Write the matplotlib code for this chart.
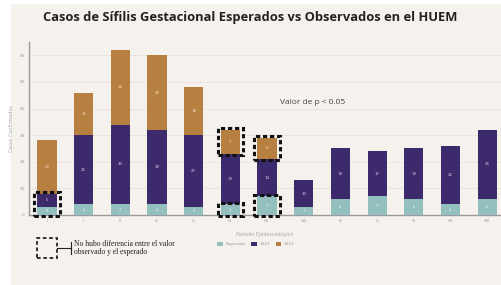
import numpy as np
from matplotlib import pyplot as plt
from matplotlib.patches import Rectangle
from matplotlib.lines import Line2D

periodos = ['I', 'II', 'III', 'IV', 'V', 'VI', 'VII', 'VIII', 'IX', 'X', 'XI', 'XII', 'XIII']
esperado = [3, 4, 4, 4, 3, 4, 7, 3, 6, 7, 6, 4, 6]
casos_2021 = [5, 26, 30, 28, 27, 19, 14, 10, 19, 17, 19, 22, 26]
casos_2022 = [20, 16, 28, 28, 18, 9, 8, 0, 0, 0, 0, 0, 0]

# (periodo, serie) sin diferencia entre observado y esperado
sin_diferencia = [(0, 'esp+2021'), (5, 'esp'), (5, '2022'), (6, 'esp'), (6, '2022')]

c_esp = '#93c0bf'
c_21 = '#3c2a6c'
c_22 = '#b77f40'
fondo = '#f5f1ec'

fig = plt.figure(figsize=(5.01, 2.85), dpi=100, facecolor='white')
fig.patches.append(Rectangle((11/501, 0), 1, 1 - 4/285, transform=fig.transFigure,
                             facecolor=fondo, edgecolor='none', zorder=-10))

ax = fig.add_axes([29/501, 70/285, 472/501, 173/285])
ax.set_facecolor(fondo)
x = np.arange(len(periodos))
w = 0.52
esp = np.array(esperado)
c21 = np.array(casos_2021)
c22 = np.array(casos_2022)

ax.bar(x, esp, w, color=c_esp, label='Esperado', zorder=3)
ax.bar(x, c21, w, bottom=esp, color=c_21, label='2021', zorder=3)
ax.bar(x, c22, w, bottom=esp + c21, color=c_22, label='2022', zorder=3)

for i in range(len(x)):
    ax.text(x[i], esp[i] / 2, str(esp[i]), ha='center', va='center', fontsize=2.8, color='#e8f2f2', zorder=4)
    ax.text(x[i], esp[i] + c21[i] / 2, str(c21[i]), ha='center', va='center', fontsize=2.8, color='#d8d0e6', zorder=4)
    if c22[i] > 0:
        ax.text(x[i], esp[i] + c21[i] + c22[i] / 2, str(c22[i]), ha='center', va='center', fontsize=2.8, color='#f3dcc0', zorder=4)

for i, serie in sin_diferencia:
    if serie == 'esp':
        y0, y1 = 0, esp[i]
    elif serie == 'esp+2021':
        y0, y1 = 0, esp[i] + c21[i]
    else:
        y0, y1 = esp[i] + c21[i], esp[i] + c21[i] + c22[i]
    ax.add_patch(Rectangle((x[i] - w / 2 - 0.09, y0 - 0.4), w + 0.18, y1 - y0 + 1.0,
                           fill=False, edgecolor='#111111', lw=2.2, ls=(0, (1.4, 0.9)),
                           zorder=5, clip_on=False))

ax.set_xlim(-0.49, 12.38)
ax.set_ylim(0, 65)
ax.set_yticks(range(0, 61, 10))
ax.set_xticks(x)
ax.set_xticklabels(periodos)
ax.tick_params(labelsize=3, colors='#9a9a9a', length=0, pad=3)
ax.grid(axis='y', color='#e6e1db', lw=0.6, zorder=0)
for s in ['top', 'right']:
    ax.spines[s].set_visible(False)
ax.spines['left'].set_color('#9a9a9a')
ax.spines['bottom'].set_color('#9a9a9a')
ax.spines['left'].set_linewidth(1)
ax.spines['bottom'].set_linewidth(1)
ax.set_ylabel('Casos Confirmados', fontsize=3.5, color='#aaaaaa', labelpad=4)
ax.set_xlabel('Periodo Epidemiológico', fontsize=3.5, color='#aaaaaa', labelpad=6)

fig.text(313/501, 1 - 102/285, 'Valor de p < 0.05', fontsize=6, color='#444444',
         ha='center', va='center', family='Open Sans')

fig.text(250/501, 1 - 18/285, 'Casos de Sífilis Gestacional Esperados vs Observados en el HUEM',
         ha='center', va='center', fontsize=9.3, fontweight='bold', color='#222222', family='Open Sans')

fig.legend(loc='center', bbox_to_anchor=(256/501, 1 - 244/285), ncol=3, fontsize=3.2,
           frameon=False, handlelength=1.3, handleheight=1.3, columnspacing=1.2,
           handletextpad=0.5, labelcolor='#9a9a9a')

# leyenda de los recuadros punteados
fig.patches.append(Rectangle((37/501, 1 - 258/285), 20/501, 20/285, transform=fig.transFigure,
                             fill=False, edgecolor='#222222', lw=1.3, ls=(0, (2, 1.5))))
fig.lines.append(Line2D([57/501, 71/501], [1 - 248/285, 1 - 248/285], transform=fig.transFigure,
                        color='#222222', lw=0.8))
fig.lines.append(Line2D([71/501, 71/501], [1 - 242/285, 1 - 254/285], transform=fig.transFigure,
                        color='#222222', lw=0.8))
fig.text(74/501, 1 - 248/285, 'No hubo diferencia entre el valor\nobservado y el esperado',
         ha='left', va='center', fontsize=5.5, color='#222222', family='Liberation Serif',
         linespacing=1.15)

fig.savefig('out.png', dpi=100, facecolor=fig.get_facecolor())
